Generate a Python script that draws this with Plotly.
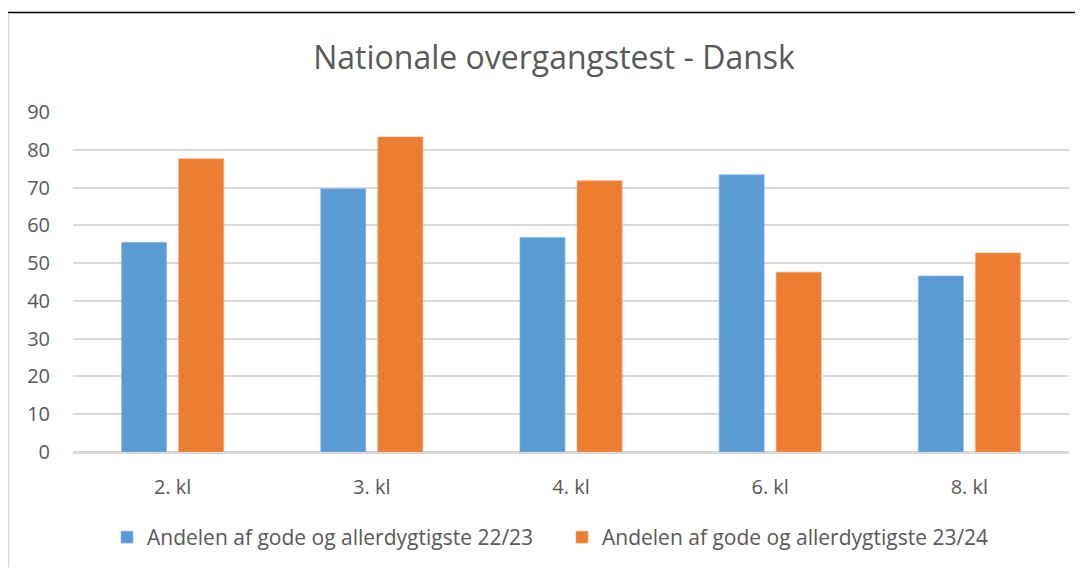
import plotly.graph_objects as go

categories = ["2. kl", "3. kl", "4. kl", "6. kl", "8. kl"]
series_2223 = [55.5, 69.7, 56.8, 73.4, 46.6]
series_2324 = [77.6, 83.4, 71.8, 47.6, 52.7]
name_2223 = "Andelen af gode og allerdygtigste 22/23"
name_2324 = "Andelen af gode og allerdygtigste 23/24"
y_ticks = [0, 10, 20, 30, 40, 50, 60, 70, 80, 90]

FONT = "Open Sans"
GREY = "#595959"

# page body has an 8px margin; figure is laid out in its own coordinates
W, H = 1075, 562
L, R, T, B = 65, 14, 104, 116
PW, PH = W - L - R, H - T - B


def px(x):
    return (x - L) / PW


def py(y):
    return (H - B - y) / PH


fig = go.Figure()
fig.add_trace(go.Bar(x=categories, y=series_2223, name=name_2223,
                     marker=dict(color="#5B9BD5", line=dict(color="#8dbbe6", width=0.6))))
fig.add_trace(go.Bar(x=categories, y=series_2324, name=name_2324,
                     marker=dict(color="#ED7D31", line=dict(color="#f5a877", width=0.6))))

fig.update_layout(
    width=W, height=H,
    paper_bgcolor="white", plot_bgcolor="white",
    margin=dict(l=L, r=R, t=T, b=B),
    barmode="group", bargap=0.427, bargroupgap=0.21,
    title=dict(text="Nationale overgangstest - Dansk", xref="container", x=546 / W,
               xanchor="center", y=1 - 50 / H, yanchor="middle",
               font=dict(family=FONT, size=32, color=GREY)),
    font=dict(family=FONT, color=GREY),
    showlegend=True,
    legend=dict(orientation="h", x=px(99), xanchor="left", y=py(532), yanchor="middle",
                font=dict(family=FONT, size=21, color=GREY), entrywidth=410,
                itemwidth=30, traceorder="normal"),
    xaxis=dict(showgrid=False, showline=True, linecolor="#d9d9d9", linewidth=1.5,
               ticks="", tickfont=dict(size=20, color=GREY), ticklabelstandoff=16),
    yaxis=dict(range=[0, 90], tickvals=y_ticks, showgrid=True, gridcolor="#d9d9d9",
               gridwidth=1.5, zeroline=True, zerolinecolor="#d9d9d9", zerolinewidth=1.5,
               showline=False, ticks="", tickfont=dict(size=20, color=GREY),
               ticklabelstandoff=22),
    shapes=[
        dict(type="line", xref="paper", yref="paper", x0=px(0), x1=px(W),
             y0=py(4), y1=py(4), line=dict(color="black", width=1.5)),
        dict(type="line", xref="paper", yref="paper", x0=px(0.5), x1=px(0.5),
             y0=py(5), y1=py(H), line=dict(color="#d9d9d9", width=1.5)),
    ],
)

fig.write_html("out.html")
